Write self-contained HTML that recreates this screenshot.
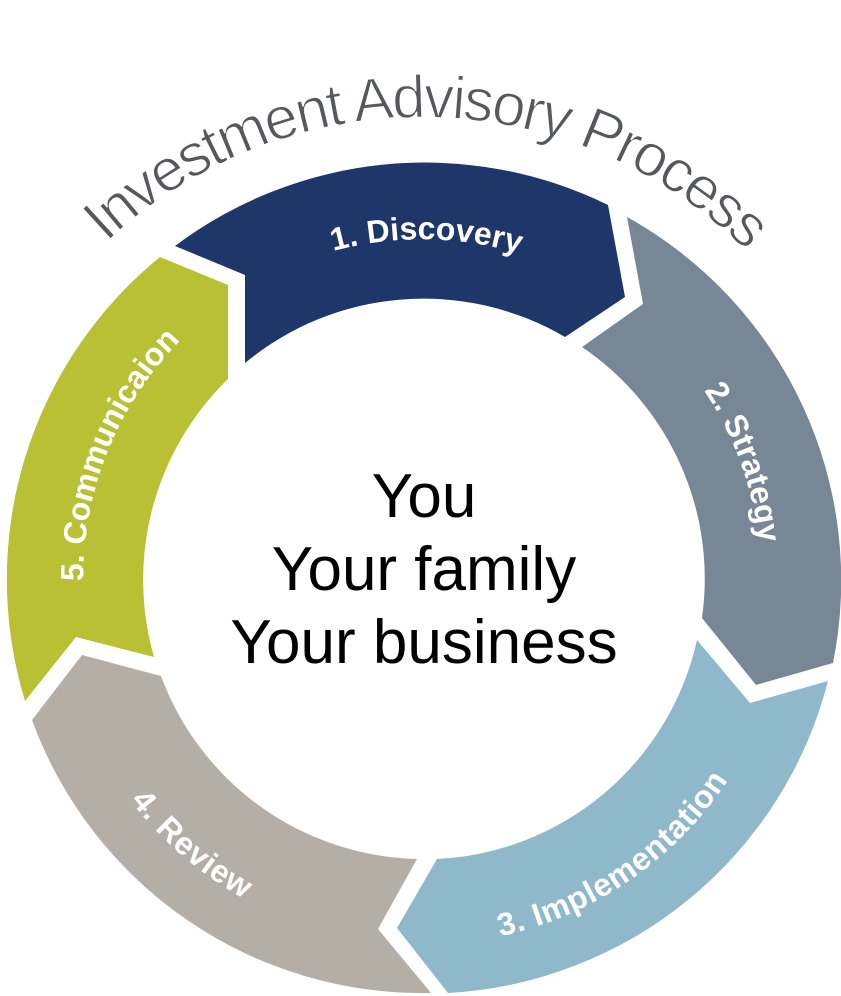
<!DOCTYPE html>
<html>
<head>
<meta charset="utf-8">
<style>
  html, body { margin: 0; padding: 0; background: #ffffff; }
  svg { display: block; }
  .lbl { font-family: "Liberation Sans", Arial, sans-serif; font-weight: bold; font-size: 32px; fill: #ffffff; }
  .lblw { letter-spacing: 0.7px; }
  .title { font-family: "Liberation Sans", Arial, sans-serif; font-size: 60px; fill: #55595d; stroke: #ffffff; stroke-width: 1.3px; letter-spacing: -2.4px; }
  .center { font-family: "Liberation Sans", Arial, sans-serif; font-size: 62px; fill: #000000; }
</style>
</head>
<body>
<svg width="841" height="996" viewBox="0 0 841 996" xmlns="http://www.w3.org/2000/svg">
  <defs>
    <path id="pN" d="M88.2,519.1 A339,339 0 0 1 755.8,519.1" fill="none"/>
    <path id="pF" d="M60.6,641.7 A367,367 0 0 0 783.4,641.7" fill="none"/>
    <path id="pT" d="M-36.3,537.9 A460,460 0 0 1 880.3,537.9" fill="none"/>
  </defs>

  <rect width="841" height="996" fill="#ffffff"/>

  <!-- 1. Discovery -->
  <path d="M175,246 A416,416 0 0 1 608,205 L625,297 L565,337 A280,280 0 0 0 245,363 L245,275 Z" fill="#1f366b"/>
  <!-- 2. Strategy -->
  <path d="M627,217 A416,416 0 0 1 833,663 L756,685 L702,618 A280,280 0 0 0 582,347 L643,304 Z" fill="#778796"/>
  <!-- 3. Implementation -->
  <path d="M828,681 A416,416 0 0 1 448,993 L397,928 L437,859 A280,280 0 0 0 697,640 L750,703 Z" fill="#8fb8ca"/>
  <!-- 4. Review -->
  <path d="M431,993 A416,416 0 0 1 32,720 L82,655 L161,676 A280,280 0 0 0 417,859 L378,929 Z" fill="#b5aea6"/>
  <!-- 5. Communication -->
  <path d="M25,701 A416,416 0 0 1 160,257 L228,285 L228,379 A280,280 0 0 0 154,657 L76,637 Z" fill="#b9c034"/>

  <!-- Title -->
  <g transform="rotate(0.65 422 578)">
    <text class="title"><textPath href="#pT" startOffset="50%" text-anchor="middle">Investment Advisory Process</textPath></text>
  </g>

  <!-- Segment labels -->
  <g transform="rotate(0.75 422 578)">
    <text class="lbl"><textPath href="#pN" startOffset="50%" text-anchor="middle">1. Discovery</textPath></text>
  </g>
  <g transform="rotate(70.2 422 578)">
    <text class="lbl"><textPath href="#pN" startOffset="50%" text-anchor="middle">2. Strategy</textPath></text>
  </g>
  <g transform="rotate(-34.5 422 578)">
    <text class="lbl lblw"><textPath href="#pF" startOffset="50%" text-anchor="middle">3. Implementation</textPath></text>
  </g>
  <g transform="rotate(40.8 422 578)">
    <text class="lbl lblw"><textPath href="#pF" startOffset="50%" text-anchor="middle">4. Review</textPath></text>
  </g>
  <g transform="rotate(-68 422 578)">
    <text class="lbl"><textPath href="#pN" startOffset="50%" text-anchor="middle">5. Communicaion</textPath></text>
  </g>

  <!-- Center text -->
  <text class="center" x="424" y="517" text-anchor="middle">You</text>
  <text class="center" x="424" y="590" text-anchor="middle">Your family</text>
  <text class="center" x="424" y="663" text-anchor="middle">Your business</text>
</svg>
</body>
</html>
